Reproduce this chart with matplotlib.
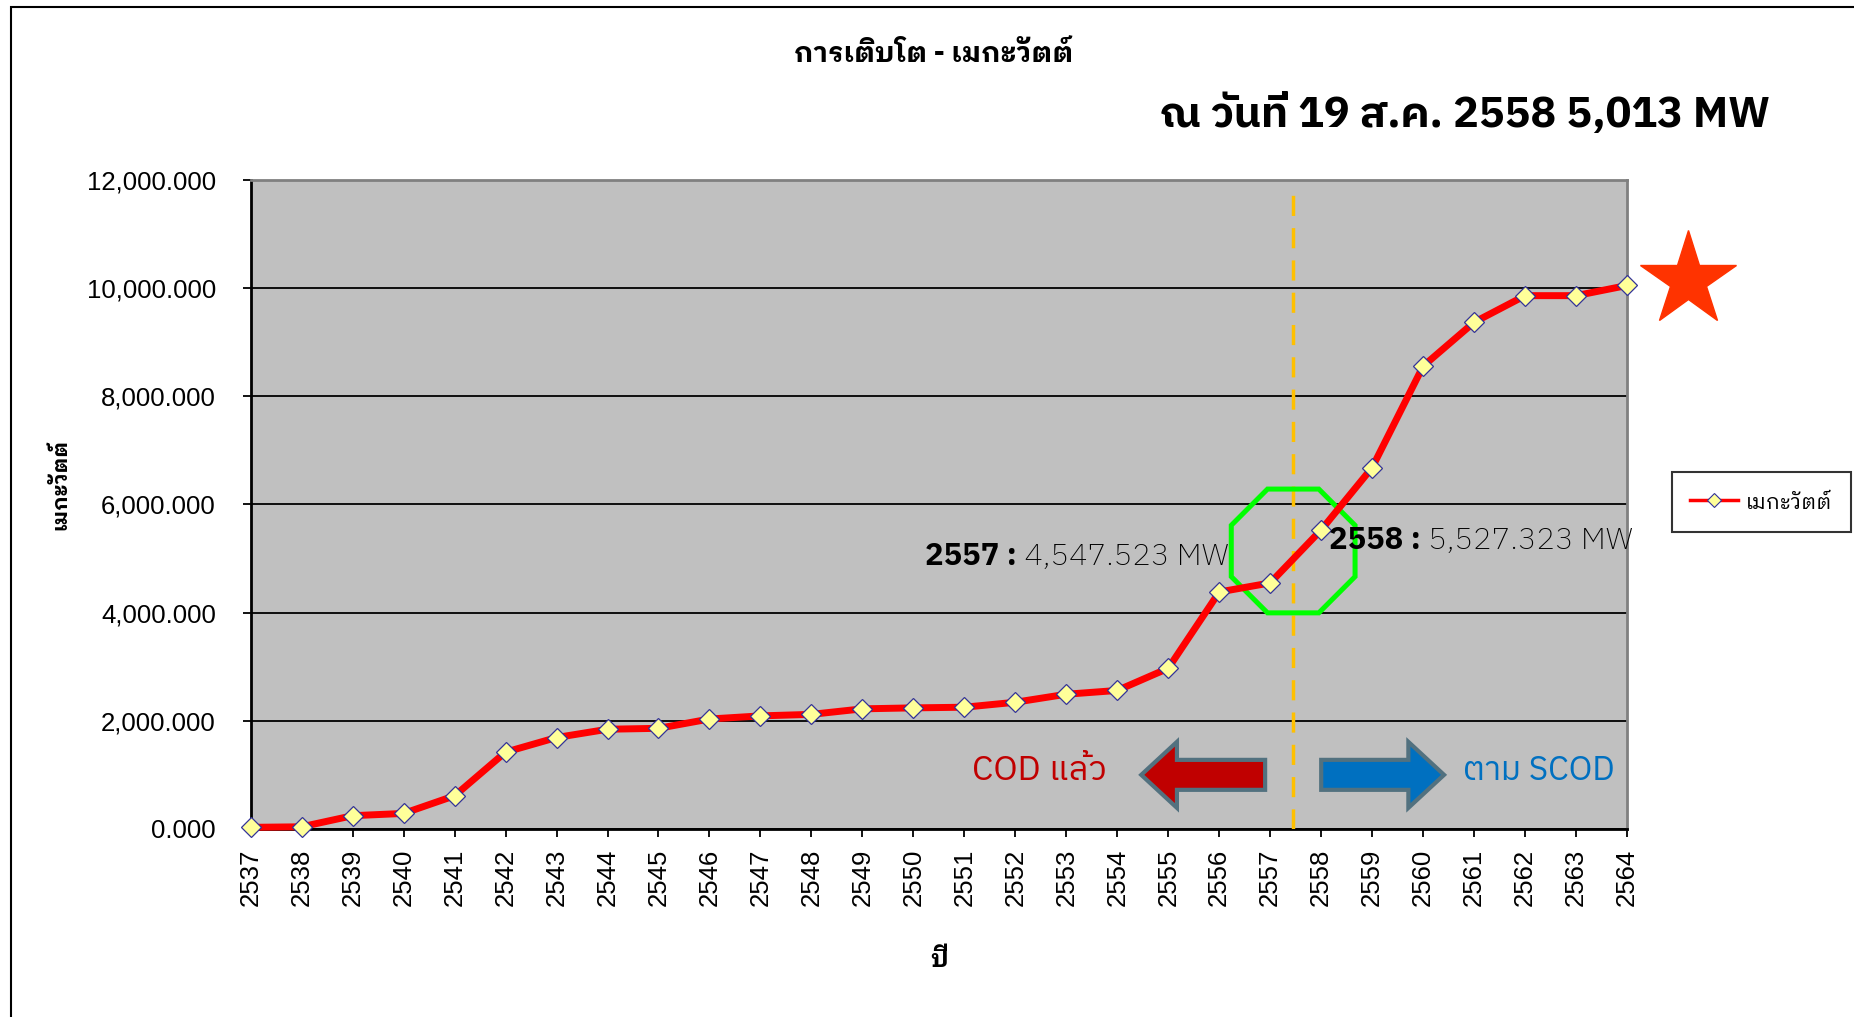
import matplotlib
matplotlib.use('Agg')
import matplotlib.pyplot as plt
import matplotlib.patches as mpatches
import matplotlib.transforms as mtransforms
from matplotlib.lines import Line2D
from matplotlib.ticker import FuncFormatter, MultipleLocator
import numpy as np

# data
years = list(range(2537, 2565))
mw = [30, 40, 245, 287, 613, 1420, 1690, 1843, 1860, 2032,
      2090, 2118, 2220, 2238, 2250, 2342, 2490, 2560, 2970, 4380,
      4547.523, 5527.323, 6680, 8555, 9365, 9857, 9857, 10045]

title = 'การเติบโต - เมกะวัตต์'
headline = 'ณ วันที่ 19 ส.ค. 2558 5,013 MW'
series_name = 'เมกะวัตต์'
xlabel = 'ปี'
ylabel = 'เมกะวัตต์'
note_2557 = ('2557 :', ' 4,547.523 MW')
note_2558 = ('2558 :', ' 5,527.323 MW')
cod_done = 'COD แล้ว'
cod_plan = 'ตาม SCOD'
cutoff_year = 2557.45

LOOP = ['IBM Plex Sans Thai Looped', 'Loma', 'DejaVu Sans']
PLAIN = ['IBM Plex Sans Thai', 'Noto Sans Thai', 'DejaVu Sans']

fig = plt.figure(figsize=(18.54, 10.17), dpi=100)
ax = fig.add_axes([0.1352, 0.1849, 0.8776 - 0.1352, 0.8233 - 0.1849])
ax.set_facecolor('#C0C0C0')

ax.plot(years, mw, color='#FF0000', lw=5, marker='D', ms=10.5,
        mfc='#FFFF99', mec='#333399', mew=0.9, clip_on=False, zorder=5)

ax.set_xlim(2537, 2564)
ax.set_ylim(0, 12000)
ax.set_xticks(years)
ax.set_xticklabels([str(y) for y in years], rotation=90, family='Liberation Sans', fontsize=18.5)
ax.yaxis.set_major_locator(MultipleLocator(2000))
ax.yaxis.set_major_formatter(FuncFormatter(lambda v, _: f'{v:,.3f}'))
for lab in ax.get_yticklabels():
    lab.set_family('Liberation Sans')
    lab.set_fontsize(18.5)
ax.tick_params(axis='y', direction='out', length=6, width=1.3, pad=19)
ax.tick_params(axis='x', direction='out', length=6, width=1.3, pad=8)
ax.yaxis.grid(True, color='black', lw=1.3)
ax.set_axisbelow(True)
for s in ['left', 'bottom']:
    ax.spines[s].set_color('black')
    ax.spines[s].set_linewidth(2)
for s in ['top', 'right']:
    ax.spines[s].set_color('#808080')
    ax.spines[s].set_linewidth(2)

# cut-off between built (COD) and scheduled (SCOD)
ax.axvline(cutoff_year, color='#FFC000', lw=2.5, ls=(0, (5.8, 3.5)), ymax=0.985, zorder=3)

octo = mpatches.RegularPolygon((0, 0), 8, radius=0.67, orientation=np.pi / 8,
                               fill=False, edgecolor='#00FF00', lw=3.6,
                               transform=fig.dpi_scale_trans + mtransforms.ScaledTranslation(cutoff_year, 5138, ax.transData),
                               zorder=4)
ax.add_patch(octo)

t1 = ax.text(2550.23, 5045, note_2557[0], family=PLAIN, fontsize=22.3, fontweight='bold', va='center', zorder=6)
ax.annotate(note_2557[1], xy=(1, 0.5), xycoords=t1, va='center', family=PLAIN, fontsize=22.3, fontweight='light', zorder=6)
t2 = ax.text(2558.16, 5323, note_2558[0], family=PLAIN, fontsize=22.3, fontweight='bold', va='center', zorder=6)
ax.annotate(note_2558[1], xy=(1, 0.5), xycoords=t2, va='center', family=PLAIN, fontsize=22.3, fontweight='light',
            zorder=6, annotation_clip=False)

ax.add_patch(mpatches.FancyArrow(2556.9, 1000, -2.43, 0, width=554, head_width=1220, head_length=0.7,
                                 length_includes_head=True, fc='#C00000', ec='#52717F', lw=3, zorder=4))
ax.add_patch(mpatches.FancyArrow(2558.0, 1000, 2.41, 0, width=554, head_width=1220, head_length=0.7,
                                 length_includes_head=True, fc='#0070C0', ec='#52717F', lw=3, zorder=4))
ax.text(2553.8, 905, cod_done, ha='right', va='baseline', family=PLAIN, fontsize=24.7, color='#C00000')
ax.text(2560.78, 905, cod_plan, ha='left', va='baseline', family=PLAIN, fontsize=24, color='#0070C0')

ax.plot([2565.2], [10146], marker='*', ms=72, color='#FF3300', mec='#FF3300', clip_on=False, zorder=6)

ax.set_xlabel(xlabel, family=LOOP, fontsize=18, fontweight='bold')
ax.xaxis.set_label_coords(0.5, -0.183)
ax.set_ylabel(ylabel, family=LOOP, fontsize=15, fontweight='bold')
ax.yaxis.set_label_coords(-0.131, 0.53)

fig.text(934 / 1854, 1 - 54 / 1017, title, ha='center', va='center', family=LOOP, fontsize=20, fontweight='bold')
fig.text(1770 / 1854, 1 - 115 / 1017, headline, ha='right', va='center', family=PLAIN, fontsize=31, fontweight='bold')

handle = Line2D([], [], color='#FF0000', lw=2.5, marker='D', ms=7, mfc='#FFFF99', mec='#333399', mew=0.8)
leg = fig.legend([handle], [series_name], loc='center left', bbox_to_anchor=(0.896, 0.5064),
                 frameon=True, fancybox=False, edgecolor='black', handlelength=2.3, handleheight=1.2,
                 borderpad=0.9, handletextpad=0.35, prop={'family': LOOP, 'size': 15})
leg.get_frame().set_linewidth(1.5)

# outer frame of the slide
fig.patches.append(mpatches.Rectangle((10.6 / 1854, -0.1), 1.2, 1.0931, transform=fig.transFigure,
                                      fill=False, edgecolor='black', lw=1.5))

fig.savefig('out.png', dpi=100)
